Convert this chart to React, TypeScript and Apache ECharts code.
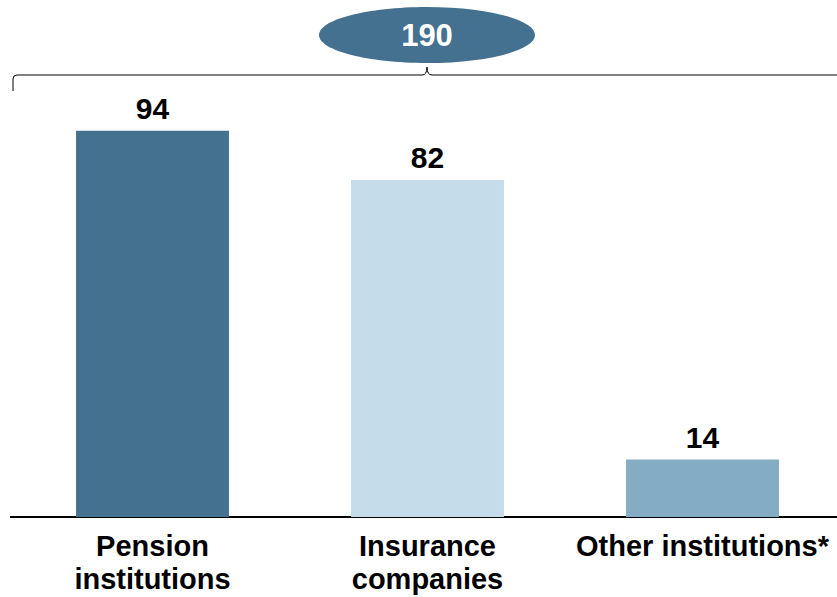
import React, { useEffect, useRef } from "react";
import * as echarts from "echarts";

const categories = ["Pension\ninstitutions", "Insurance\ncompanies", "Other institutions*"];
const values = [94, 82, 14];
const barColors = ["#44718f", "#c5dcea", "#84acc5"];
const totalLabel = "190";

const FONT = "Liberation Sans, Arial, sans-serif";

// curly bracket spanning all three bars, with its tip under the total bubble
echarts.graphic.registerShape(
  "bracket",
  echarts.graphic.extendPath(
    "M13,91 L13,79 Q13,75 17,75 L422,75 Q427,75 427,67 Q427,75 432,75 L845,75",
    {}
  )
);

export default function App() {
  const ref = useRef<HTMLDivElement>(null);

  useEffect(() => {
    document.body.style.margin = "0";
    const chart = echarts.init(ref.current!, null, { renderer: "svg" });
    chart.setOption({
      animation: false,
      backgroundColor: "#ffffff",
      textStyle: { fontFamily: FONT },
      grid: {
        left: 15,
        width: 825,
        top: 106,
        bottom: 80,
        outerBoundsMode: "none",
        containLabel: false,
      },
      xAxis: {
        type: "category",
        data: categories,
        axisLine: { show: false },
        axisTick: { show: false },
        axisLabel: {
          color: "#000",
          fontSize: 29,
          fontWeight: "bold",
          lineHeight: 33,
          margin: 12,
          interval: 0,
        },
      },
      yAxis: {
        type: "value",
        min: 0,
        max: 100,
        show: false,
        splitLine: { show: false },
      },
      series: [
        {
          type: "bar",
          barWidth: "55.6%",
          data: values.map((v, i) => ({ value: v, itemStyle: { color: barColors[i] } })),
          label: {
            show: true,
            position: "top",
            distance: 7,
            color: "#000",
            fontSize: 30,
            fontWeight: "bold",
          },
        },
      ],
      graphic: [
        {
          type: "line",
          shape: { x1: 10, y1: 517, x2: 837, y2: 517 },
          style: { stroke: "#000", lineWidth: 2 },
        },
        {
          type: "bracket",
          x: 0,
          y: 0,
          style: { fill: "none", stroke: "#000", lineWidth: 1 },
        },
        {
          type: "ellipse",
          shape: { cx: 427, cy: 35, rx: 108, ry: 28 },
          style: { fill: "#44718f" },
        },
        {
          type: "text",
          x: 427,
          y: 35,
          style: {
            text: totalLabel,
            fill: "#fff",
            fontSize: 31,
            fontWeight: "bold",
            fontFamily: FONT,
            align: "center",
            verticalAlign: "middle",
          },
        },
      ],
    });
    return () => chart.dispose();
  }, []);

  return <div ref={ref} style={{ width: 837, height: 597 }} />;
}
